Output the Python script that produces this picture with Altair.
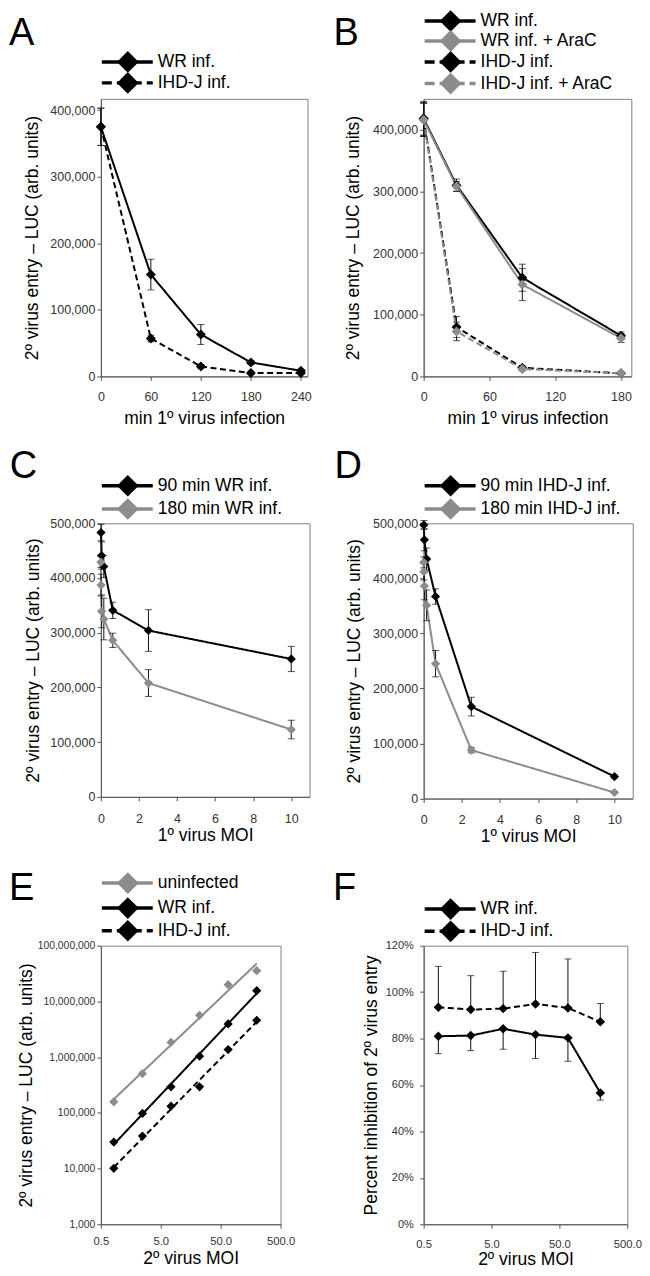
import altair as alt
import pandas as pd

FONT = "Liberation Sans"
BLACK = "#000000"
GRAY = "#8c8c8c"
AXIS_GRAY = "#555555"
LABEL_GRAY = "#333333"

# ---------------- Panel A ----------------
a_labels = ["WR inf.", "IHD-J inf."]
a_time = [0, 60, 120, 180, 240]
a_wr = [375000, 153000, 63000, 21000, 8500]
a_wr_err = [28000, 23000, 15000, 3000, 2000]
a_ihdj = [375000, 57000, 15000, 5000, 5000]
a_ihdj_err = [28000, 5000, 3000, 1500, 1000]
a_xticks = [0, 60, 120, 180, 240]
a_yticks = [0, 100000, 200000, 300000, 400000]

# ---------------- Panel B ----------------
b_labels = ["WR inf.", "WR inf. + AraC", "IHD-J inf.", "IHD-J inf. + AraC"]
b_time = [0, 30, 90, 180]
b_wr = [418000, 310000, 160000, 66000]
b_wr_err = [27000, 10000, 22000, 6000]
b_wr_arac = [416000, 308000, 149000, 62000]
b_wr_arac_err = [27000, 8000, 26000, 7000]
b_ihdj = [418000, 80000, 14000, 5000]
b_ihdj_err = [27000, 17000, 3000, 1000]
b_ihdj_arac = [416000, 73000, 12000, 5000]
b_ihdj_arac_err = [27000, 15000, 3000, 1000]
b_xticks = [0, 60, 120, 180]
b_yticks = [0, 100000, 200000, 300000, 400000]

# ---------------- Panel C ----------------
c_labels = ["90 min WR inf.", "180 min WR inf."]
c_moi_90 = [0.0098, 0.039, 0.156, 0.625, 2.5, 10]
c_wr_90 = [483000, 441000, 421000, 341000, 304000, 252000]
c_wr_90_err = [15000, 25000, 20000, 15000, 38000, 23000]
c_moi_180 = [0.0024, 0.0098, 0.039, 0.156, 0.625, 2.5, 10]
c_wr_180 = [429000, 387000, 339000, 325000, 286000, 208000, 123000]
c_wr_180_err = [10000, 20000, 30000, 38000, 13000, 24500, 17000]
c_xticks = [0, 2, 4, 6, 8, 10]
c_yticks = [0, 100000, 200000, 300000, 400000, 500000]

# ---------------- Panel D ----------------
d_labels = ["90 min IHD-J inf.", "180 min IHD-J inf."]
d_moi_90 = [0.0098, 0.039, 0.156, 0.625, 2.5, 10]
d_ihdj_90 = [497000, 470000, 435000, 367000, 167000, 40000]
d_ihdj_90_err = [8000, 20000, 20000, 14000, 17000, 3000]
d_moi_180 = [0.0024, 0.0098, 0.039, 0.156, 0.625, 2.5, 10]
d_ihdj_180 = [429000, 412000, 386000, 351000, 245000, 88000, 11000]
d_ihdj_180_err = [10000, 15000, 25000, 28000, 24000, 5000, 2000]
d_xticks = [0, 2, 4, 6, 8, 10]
d_yticks = [0, 100000, 200000, 300000, 400000, 500000]

# ---------------- Panel E ----------------
e_labels = ["uninfected", "WR inf.", "IHD-J inf."]
e_moi = [0.823, 2.47, 7.41, 22.2, 66.7, 200]
e_uninf = [158000, 508000, 1850000, 5640000, 20000000, 35600000]
e_wr = [29900, 97500, 293000, 1040000, 3950000, 15600000]
e_ihdj = [10100, 38300, 132000, 293000, 1370000, 4590000]
e_xticks = [0.5, 5, 50, 500]
e_yticks = [1000, 10000, 100000, 1000000, 10000000, 100000000]

# ---------------- Panel F ----------------
f_labels = ["WR inf.", "IHD-J inf."]
f_moi = [0.823, 2.47, 7.41, 22.2, 66.7, 200]
f_wr = [81.0, 81.3, 84.2, 81.7, 80.3, 56.6]
f_wr_err_minus = [7.5, 6.5, 8.8, 10.3, 10.1, 3.1]
f_ihdj = [93.5, 92.5, 92.9, 94.9, 93.2, 87.2]
f_ihdj_err_plus = [17.6, 14.6, 16.1, 22.2, 21.1, 7.9]
f_xticks = [0.5, 5, 50, 500]
f_yticks = [0, 20, 40, 60, 80, 100, 120]

Y_TITLE = "2º virus entry – LUC (arb. units)"
DASH = [6, 3.5]
SOLID = [1, 0]
DUMMY = pd.DataFrame({"k": [0]})


def frame(label, xs, ys, em, ep):
    n = len(xs)
    return pd.DataFrame({"series": [label] * n, "x": xs, "y": ys, "em": em, "ep": ep})


def x_axis(title, values, fmt, fs, pad, w, ty):
    return alt.Axis(title=title, values=values, format=fmt, labelFontSize=fs,
                    labelPadding=pad, titleX=w / 2, titleY=ty,
                    titleBaseline="alphabetic", titleAlign="center",
                    labelFlush=False)


def y_axis(title, values, fs, pad, h, tx, fmt=None, expr=None):
    kw = dict(title=title, values=values, labelFontSize=fs, labelPadding=pad,
              titleX=tx, titleY=h / 2, titleBaseline="bottom",
              titleAlign="center", labelFlush=False)
    if fmt is not None:
        kw["format"] = fmt
    if expr is not None:
        kw["labelExpr"] = expr
    return alt.Axis(**kw)


def make_panel(df, names, colors, dashes, xscale, xaxis, yscale, yaxis, w, h,
               legend, letter, letter_pos, anchors, msize, trend=False):
    color = alt.Color("series:N", scale=alt.Scale(domain=names, range=colors), legend=None)
    dash = alt.StrokeDash("series:N", scale=alt.Scale(domain=names, range=dashes), legend=None)
    X = alt.X("x:Q", scale=xscale, axis=xaxis)
    Y = alt.Y("y:Q", scale=yscale, axis=yaxis)
    base = alt.Chart(df)
    layers = []
    if trend:
        layers.append(base.transform_regression("x", "y", groupby=["series"], method="pow")
                      .mark_line(strokeWidth=2).encode(x=X, y=Y, color=color, strokeDash=dash))
    else:
        layers.append(base.mark_line(strokeWidth=2).encode(x=X, y=Y, color=color, strokeDash=dash))
        err = base.transform_filter("datum.em + datum.ep > 0").transform_calculate(
            lo="datum.y - datum.em", hi="datum.y + datum.ep")
        Ylo = alt.Y("lo:Q", scale=yscale, axis=yaxis)
        Yhi = alt.Y("hi:Q", scale=yscale, axis=yaxis)
        layers.append(err.mark_rule(color="#111111", strokeWidth=1).encode(x=X, y=Ylo, y2="hi:Q"))
        layers.append(err.transform_filter("datum.em > 0")
                      .mark_tick(orient="horizontal", size=7, thickness=1, color="#111111")
                      .encode(x=X, y=Ylo))
        layers.append(err.transform_filter("datum.ep > 0")
                      .mark_tick(orient="horizontal", size=7, thickness=1, color="#111111")
                      .encode(x=X, y=Yhi))
    layers.append(base.mark_point(shape="diamond", filled=True, size=msize, opacity=1)
                  .encode(x=X, y=Y, color=color))
    # manual legend (Excel style: line + big diamond + label)
    for label, col, dashed, ry in legend:
        rk = dict(color=col, strokeWidth=3.5)
        if dashed:
            rk["strokeDash"] = [10, 5]
        layers.append(alt.Chart(DUMMY).mark_rule(**rk).encode(
            x=alt.value(1), x2=alt.value(52), y=alt.value(ry)))
        layers.append(alt.Chart(DUMMY).mark_point(shape="diamond", filled=True, size=470,
                                                  color=col, opacity=1).encode(
            x=alt.value(27), y=alt.value(ry)))
        layers.append(alt.Chart(DUMMY).mark_text(text=label, align="left", baseline="middle",
                                                 fontSize=17.5, font=FONT, color=BLACK).encode(
            x=alt.value(57), y=alt.value(ry)))
    # panel letter
    layers.append(alt.Chart(DUMMY).mark_text(text=letter, align="left", baseline="alphabetic",
                                             fontSize=38, font=FONT, color=BLACK).encode(
        x=alt.value(letter_pos[0]), y=alt.value(letter_pos[1])))
    # invisible anchor fixing the top-left corner of the whole figure
    for ax_, ay_ in anchors:
        layers.append(alt.Chart(DUMMY).mark_point(size=1, filled=True, opacity=0, strokeWidth=0)
                      .encode(x=alt.value(ax_), y=alt.value(ay_)))
    return alt.layer(*layers).properties(width=w, height=h)


# ---------------- build panels ----------------
# A
wA, hA = 207, 278
dfA = pd.concat([frame(a_labels[0], a_time, a_wr, a_wr_err, a_wr_err),
                 frame(a_labels[1], a_time, a_ihdj, a_ihdj_err, a_ihdj_err)])
pA = make_panel(
    dfA, a_labels, [BLACK, BLACK], [SOLID, DASH],
    alt.Scale(domain=[0, 248], nice=False, zero=False),
    x_axis("min 1º virus infection", a_xticks, "d", 12.5, 10, wA, 47.5),
    alt.Scale(domain=[0, 417000], nice=False),
    y_axis(Y_TITLE, a_yticks, 12.5, 2, hA, -59, fmt=",d"),
    wA, hA,
    [(a_labels[0], BLACK, False, -37), (a_labels[1], BLACK, True, -16)],
    "A", (-92, -54), [(-92, -89)], 100)

# B
wB, hB = 208, 278
dfB = pd.concat([frame(b_labels[0], b_time, b_wr, b_wr_err, b_wr_err),
                 frame(b_labels[1], b_time, b_wr_arac, b_wr_arac_err, b_wr_arac_err),
                 frame(b_labels[2], b_time, b_ihdj, b_ihdj_err, b_ihdj_err),
                 frame(b_labels[3], b_time, b_ihdj_arac, b_ihdj_arac_err, b_ihdj_arac_err)])
pB = make_panel(
    dfB, b_labels, [BLACK, GRAY, BLACK, GRAY], [SOLID, SOLID, DASH, DASH],
    alt.Scale(domain=[0, 189.4], nice=False, zero=False),
    x_axis("min 1º virus infection", b_xticks, "d", 12.5, 10, wB, 47.5),
    alt.Scale(domain=[0, 450000], nice=False),
    y_axis(Y_TITLE, b_yticks, 12.5, 2, hB, -61, fmt=",d"),
    wB, hB,
    [(b_labels[0], BLACK, False, -78), (b_labels[1], GRAY, False, -58),
     (b_labels[2], BLACK, True, -37), (b_labels[3], GRAY, True, -15.3)],
    "B", (-90.3, -54), [], 100)

# C
wC, hC = 209, 274
dfC = pd.concat([frame(c_labels[0], c_moi_90, c_wr_90, c_wr_90_err, c_wr_90_err),
                 frame(c_labels[1], c_moi_180, c_wr_180, c_wr_180_err, c_wr_180_err)])
pC = make_panel(
    dfC, c_labels, [BLACK, GRAY], [SOLID, SOLID],
    alt.Scale(domain=[0, 10.96], nice=False, zero=False),
    x_axis("1º virus MOI", c_xticks, "d", 12.5, 12, wC, 44),
    alt.Scale(domain=[0, 500000], nice=False),
    y_axis(Y_TITLE, c_yticks, 12.5, 2, hC, -58.3, fmt=",d"),
    wC, hC,
    [(c_labels[0], BLACK, False, -37.6), (c_labels[1], GRAY, False, -14.3)],
    "C", (-91.3, -45), [], 85)

# D
wD, hD = 209.4, 275.7
dfD = pd.concat([frame(d_labels[0], d_moi_90, d_ihdj_90, d_ihdj_90_err, d_ihdj_90_err),
                 frame(d_labels[1], d_moi_180, d_ihdj_180, d_ihdj_180_err, d_ihdj_180_err)])
pD = make_panel(
    dfD, d_labels, [BLACK, GRAY], [SOLID, SOLID],
    alt.Scale(domain=[0, 10.96], nice=False, zero=False),
    x_axis("1º virus MOI", d_xticks, "d", 12.5, 11, wD, 43.5),
    alt.Scale(domain=[0, 500000], nice=False),
    y_axis(Y_TITLE, d_yticks, 12.5, 2, hD, -60.3, fmt=",d"),
    wD, hD,
    [(d_labels[0], BLACK, False, -37.6), (d_labels[1], GRAY, False, -14.3)],
    "D", (-89.3, -45), [], 85)

# E
wE, hE = 180, 279
zeros = [0] * len(e_moi)
dfE = pd.concat([frame(e_labels[0], e_moi, e_uninf, zeros, zeros),
                 frame(e_labels[1], e_moi, e_wr, zeros, zeros),
                 frame(e_labels[2], e_moi, e_ihdj, zeros, zeros)])
pE = make_panel(
    dfE, e_labels, [GRAY, BLACK, BLACK], [SOLID, SOLID, DASH],
    alt.Scale(type="log", domain=[0.5, 500], nice=False),
    x_axis("2º virus MOI", e_xticks, ".1f", 11.3, 6.8, wE, 39),
    alt.Scale(type="log", domain=[1000, 100000000], nice=False),
    y_axis(Y_TITLE, e_yticks, 10.4, 2, hE, -65, fmt=",d"),
    wE, hE,
    [(e_labels[0], GRAY, False, -62.7), (e_labels[1], BLACK, False, -37.7),
     (e_labels[2], BLACK, True, -15)],
    "E", (-92, -46), [], 85, trend=True)

# F
wF, hF = 204, 279
dfF = pd.concat([frame(f_labels[0], f_moi, f_wr, f_wr_err_minus, [0] * len(f_moi)),
                 frame(f_labels[1], f_moi, f_ihdj, [0] * len(f_moi), f_ihdj_err_plus)])
pF = make_panel(
    dfF, f_labels, [BLACK, BLACK], [SOLID, DASH],
    alt.Scale(type="log", domain=[0.5, 500], nice=False),
    x_axis("2º virus MOI", f_xticks, ".1f", 11.3, 10, wF, 40),
    alt.Scale(domain=[0, 120], nice=False),
    y_axis("Percent inhibition of 2º virus entry", f_yticks, 11, 6.4, hF, -43.7,
           expr="datum.value + '%'"),
    wF, hF,
    [(f_labels[0], BLACK, False, -36.7), (f_labels[1], BLACK, True, -14.4)],
    "F", (-90.7, -46), [], 90)

chart = alt.concat(pA, pB, pC, pD, pE, pF, columns=2,
                   spacing={"row": 147.1, "column": 114.3},
                   bounds="flush", align="each").properties(
    padding={"left": 0, "top": 0, "right": 0, "bottom": 0})
chart = chart.resolve_scale(color="independent", strokeDash="independent")
chart = chart.configure_view(stroke="#808080", strokeWidth=1).configure_axis(
    grid=False, domainColor=AXIS_GRAY, tickColor=AXIS_GRAY, tickSize=4,
    domainWidth=1, tickWidth=1, labelFont=FONT, labelColor=LABEL_GRAY,
    titleFont=FONT, titleFontSize=17.5, titleFontWeight="normal", titleColor=BLACK,
    labelOverlap=False)

chart.save("out.html", embed_options={"renderer": "svg", "actions": False})
